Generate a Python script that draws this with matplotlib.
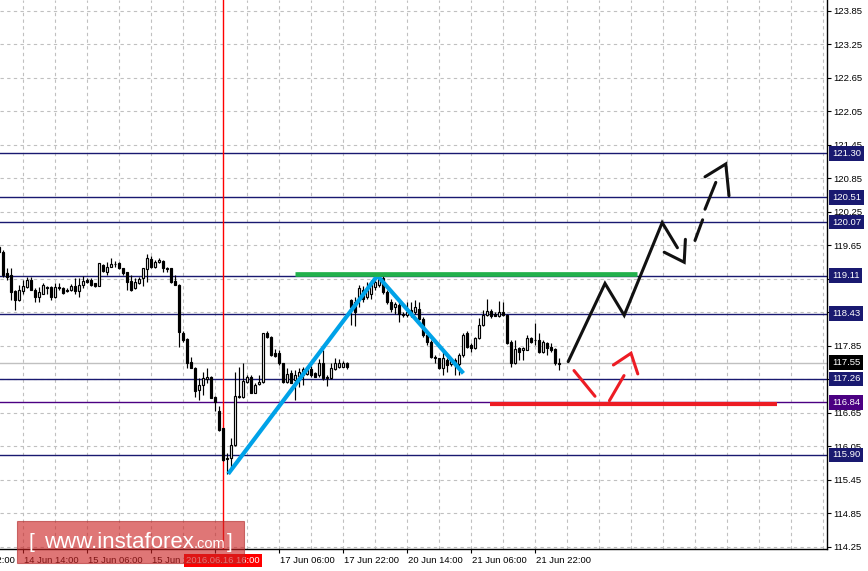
import matplotlib
matplotlib.use("Agg")
import matplotlib.pyplot as plt
import matplotlib.transforms as mtransforms
from matplotlib.patches import Rectangle

# ---------------- data ----------------
# hourly bars: index 0 = 14 Jun 14:00 (trading hours only)
bars = list(range(-6, 135))
opens = [119.63, 119.54, 119.15, 119.12, 118.84, 118.67,
         118.84, 118.91, 119.03, 118.85, 118.73, 118.79, 118.91, 118.91, 118.72, 118.91,
         118.89, 118.85, 118.85, 118.92, 118.84, 118.94, 119.03, 119.03, 118.97, 118.93,
         119.30, 119.18, 119.27, 119.31, 119.33, 119.24, 119.17, 119.01, 118.88, 118.97,
         119.06, 119.23, 119.41, 119.27, 119.36, 119.37, 119.25, 119.24, 119.01, 118.94,
         118.08, 117.97, 117.56, 117.46, 117.06, 117.16, 117.26, 117.30, 116.94, 116.69,
         116.38, 115.85, 115.84, 116.08, 116.93, 116.93, 117.21, 117.30, 117.01, 117.17,
         117.21, 118.09, 118.02, 117.73, 117.72, 117.54, 117.21, 117.37, 117.24, 117.31,
         117.33, 117.35, 117.43, 117.37, 117.33, 117.54, 117.30, 117.27, 117.43, 117.48,
         117.48, 117.55, 118.67, 118.64, 118.70, 118.85, 118.73, 118.79, 118.91, 118.94,
         119.07, 118.82, 118.64, 118.54, 118.58, 118.43, 118.40, 118.49, 118.46, 118.52,
         118.34, 118.05, 117.93, 117.66, 117.63, 117.45, 117.60, 117.52, 117.60, 117.52,
         117.69, 118.08, 117.87, 117.81, 117.99, 118.23, 118.41, 118.48, 118.42, 118.38,
         118.45, 118.41, 117.93, 117.54, 117.81, 117.78, 117.78, 117.99, 117.95, 117.95,
         117.75, 117.91, 117.84, 117.79, 117.52]
highs = [119.66, 119.57, 119.24, 119.24, 118.85, 118.94,
         119.04, 119.08, 119.08, 118.88, 118.91, 118.98, 118.92, 118.92, 118.97, 118.97,
         118.91, 118.88, 118.96, 119.06, 119.06, 119.10, 119.06, 119.06, 118.98, 119.34,
         119.32, 119.36, 119.42, 119.37, 119.35, 119.25, 119.18, 119.12, 119.07, 119.09,
         119.25, 119.49, 119.47, 119.39, 119.42, 119.39, 119.27, 119.25, 119.12, 118.96,
         118.12, 117.99, 117.66, 117.48, 117.27, 117.38, 117.45, 117.32, 116.96, 116.78,
         116.39, 115.93, 116.20, 117.39, 117.48, 117.54, 117.33, 117.33, 117.18, 117.33,
         118.09, 118.11, 118.03, 117.79, 117.78, 117.55, 117.45, 117.42, 117.42, 117.45,
         117.48, 117.43, 117.49, 117.39, 117.61, 117.78, 117.33, 117.54, 117.63, 117.61,
         117.59, 117.57, 118.70, 118.73, 118.94, 118.93, 119.00, 119.03, 119.06, 119.11,
         119.10, 118.85, 118.70, 118.64, 118.64, 118.46, 118.64, 118.64, 118.67, 118.64,
         118.37, 118.08, 117.96, 117.69, 117.64, 117.75, 117.63, 117.63, 117.63, 117.72,
         118.08, 118.11, 117.90, 118.02, 118.35, 118.50, 118.69, 118.52, 118.45, 118.66,
         118.64, 118.42, 117.96, 117.96, 117.84, 117.84, 118.05, 118.02, 118.26, 118.08,
         117.96, 117.93, 117.90, 117.82, 117.63]
lows = [119.52, 119.09, 119.04, 118.67, 118.49, 118.66,
        118.79, 118.88, 118.85, 118.64, 118.64, 118.78, 118.79, 118.68, 118.715, 118.86,
        118.79, 118.82, 118.84, 118.79, 118.73, 118.88, 118.97, 118.93, 118.91, 118.92,
        119.18, 119.12, 119.26, 119.26, 119.23, 119.13, 118.85, 118.84, 118.87, 118.96,
        118.93, 119.00, 119.24, 119.25, 119.33, 119.17, 119.18, 118.97, 118.94, 117.84,
        117.93, 117.46, 117.45, 116.94, 116.88, 116.98, 117.18, 116.91, 116.69, 116.33,
        115.79, 115.55, 115.66, 116.06, 116.91, 116.91, 117.18, 117.00, 117.00, 117.15,
        117.19, 118.00, 117.67, 117.65, 117.51, 117.19, 117.18, 117.18, 116.89, 117.12,
        117.15, 117.33, 117.30, 117.29, 117.30, 117.24, 117.13, 117.26, 117.42, 117.45,
        117.47, 117.43, 118.23, 118.20, 118.55, 118.64, 118.70, 118.70, 118.85, 118.91,
        118.79, 118.61, 118.46, 118.43, 118.28, 118.37, 118.37, 118.37, 118.43, 118.31,
        118.02, 117.87, 117.63, 117.54, 117.44, 117.33, 117.39, 117.50, 117.33, 117.33,
        117.66, 117.81, 117.75, 117.80, 117.97, 118.21, 118.39, 118.35, 118.38, 118.37,
        118.39, 117.89, 117.48, 117.53, 117.60, 117.60, 117.77, 117.91, 117.87, 117.73,
        117.72, 117.69, 117.75, 117.51, 117.42]
closes = [119.54, 119.12, 119.09, 118.82, 118.67, 118.85,
          118.92, 119.04, 118.86, 118.73, 118.82, 118.94, 118.88, 118.73, 118.91, 118.89,
          118.80, 118.83, 118.92, 118.84, 118.94, 119.01, 119.00, 118.94, 118.93, 119.33,
          119.20, 119.26, 119.32, 119.32, 119.24, 119.15, 119.00, 118.85, 119.00, 119.05,
          119.24, 119.42, 119.27, 119.36, 119.39, 119.24, 119.23, 118.99, 118.95, 118.10,
          117.96, 117.54, 117.46, 117.04, 117.15, 117.27, 117.30, 116.92, 116.85, 116.35,
          115.81, 115.83, 116.08, 116.95, 116.95, 117.22, 117.30, 117.01, 117.15, 117.21,
          118.08, 118.02, 117.69, 117.67, 117.54, 117.21, 117.35, 117.19, 117.33, 117.39,
          117.43, 117.42, 117.33, 117.30, 117.54, 117.27, 117.27, 117.45, 117.54, 117.55,
          117.55, 117.47, 118.55, 118.46, 118.88, 118.70, 118.85, 118.97, 119.00, 119.06,
          118.82, 118.64, 118.52, 118.61, 118.43, 118.40, 118.46, 118.40, 118.54, 118.34,
          118.05, 117.93, 117.66, 117.63, 117.45, 117.63, 117.51, 117.60, 117.51, 117.69,
          118.05, 117.84, 117.81, 117.99, 118.23, 118.41, 118.47, 118.38, 118.39, 118.45,
          118.41, 117.90, 117.54, 117.79, 117.75, 117.81, 117.99, 117.93, 117.96, 117.75,
          117.93, 117.81, 117.78, 117.54, 117.55]

price_ticks = [114.25, 114.85, 115.45, 116.05, 116.65, 117.25, 117.85, 118.45,
               119.05, 119.65, 120.25, 120.85, 121.45, 122.05, 122.65, 123.25, 123.85]
# tick labels fully hidden behind level boxes in the reference
hidden_price_labels = [117.25, 118.45, 119.05]
time_tick_bars = [-16, 0, 16, 32, 48, 64, 80, 96, 112, 128]
time_tick_labels = ["13 Jun 22:00", "14 Jun 14:00", "15 Jun 06:00", "15 Jun 22:00",
                    "16 Jun 14:00", "17 Jun 06:00", "17 Jun 22:00", "20 Jun 14:00",
                    "21 Jun 06:00", "21 Jun 22:00"]
hidden_time_labels = ["16 Jun 14:00"]

level_prices = [121.30, 120.51, 120.07, 119.11, 118.43, 117.26, 116.84, 115.90]
level_colors = ["#191970"] * 6 + ["#4b0082", "#191970"]
bid_price = 117.55
cursor_bar = 50
cursor_label = "2016.06.16 16:00"

blue_x = [51.3, 88.6, 110.1]
blue_y = [115.56, 119.11, 117.36]
green_level = 119.14
green_span = [68.0, 153.4]
red_level = 116.82
red_span = [116.75, 188.5]

black_path_x = [136.3, 145.5, 150.3, 159.8, 163.6]
black_path_y = [117.57, 118.97, 118.40, 120.06, 119.61]
black_head1_x = [160.3, 165.3, 165.6]
black_head1_y = [119.53, 119.35, 119.76]
black_dash_x = [[168.0, 169.9], [170.5, 173.2]]
black_dash_y = [[119.74, 120.11], [120.30, 120.78]]
black_head2_x = [170.5, 175.7, 176.5]
black_head2_y = [120.88, 121.11, 120.54]

red_dash_x = [[137.75, 143.0], [146.6, 150.25]]
red_dash_y = [[117.41, 116.95], [116.87, 117.32]]
red_head_x = [147.6, 152.0, 153.7]
red_head_y = [117.51, 117.72, 117.35]

# ---------------- figure ----------------
W, H, DPI = 868, 571, 100
fig = plt.figure(figsize=(W / DPI, H / DPI), dpi=DPI)
fig.patch.set_facecolor("white")
ax = fig.add_axes([0, 22 / H, 827 / W, 549 / H])
ax.set_facecolor("white")
ax.set_xlim(-5.75, 201.0)
ax.set_ylim(114.214, 124.047)

FONT = "Liberation Sans"
FS = 6.8
GRID = "#c0c0c0"

# grid
for v in price_ticks:
    ax.axhline(v, color=GRID, lw=0.8, ls=(0, (3, 3)), zorder=1)
for g in range(-8, 208, 8):
    ax.axvline(g, color=GRID, lw=0.8, ls=(0, (3, 3)), zorder=1)

# level lines
ax.axhline(bid_price, color="#c0c0c0", lw=1.0, zorder=2)
for p, c in zip(level_prices, level_colors):
    ax.axhline(p, color=c, lw=1.0, zorder=2)

# cursor line
ax.axvline(cursor_bar, color="red", lw=1.0, zorder=3)

# candles
for i, o, h, l, c in zip(bars, opens, highs, lows, closes):
    ax.plot([i, i], [l, h], color="black", lw=0.85, zorder=4, solid_capstyle="butt")
    bottom = min(o, c)
    height = max(abs(c - o), 0.006)
    fc = "white" if c >= o else "black"
    ax.add_patch(Rectangle((i - 0.3, bottom), 0.6, height, facecolor=fc,
                           edgecolor="black", lw=0.85, zorder=5))

# drawings
ax.plot(blue_x, blue_y, color="#00a2e8", lw=3.0, zorder=7, solid_capstyle="butt")
ax.plot(green_span, [green_level, green_level], color="#22b14c", lw=3.4, zorder=7,
        solid_capstyle="butt")
ax.plot(red_span, [red_level, red_level], color="#ed1c24", lw=3.0, zorder=7,
        solid_capstyle="butt")
kw_b = dict(color="#111111", lw=2.2, zorder=8, solid_capstyle="round", solid_joinstyle="miter")
ax.plot(black_path_x, black_path_y, **kw_b)
ax.plot(black_head1_x, black_head1_y, **kw_b)
for xs, ys in zip(black_dash_x, black_dash_y):
    ax.plot(xs, ys, **kw_b)
ax.plot(black_head2_x, black_head2_y, **kw_b)
kw_r = dict(color="#ed1c24", lw=2.2, zorder=8, solid_capstyle="round", solid_joinstyle="miter")
for xs, ys in zip(red_dash_x, red_dash_y):
    ax.plot(xs, ys, **kw_r)
ax.plot(red_head_x, red_head_y, **kw_r)

# spines / ticks
for s in ["left", "top"]:
    ax.spines[s].set_visible(False)
for s in ["right", "bottom"]:
    ax.spines[s].set_color("black")
    ax.spines[s].set_linewidth(1.0)

ax.yaxis.tick_right()
ax.set_yticks(price_ticks)
ax.set_yticklabels(["" if v in hidden_price_labels else f"{v:.2f}" for v in price_ticks],
                   fontfamily=FONT, fontsize=FS)
ax.tick_params(axis="y", direction="out", length=3, width=0.8, pad=1.5, colors="black")

vis_ticks = [t for t in time_tick_bars if t >= -5.75]
ax.set_xticks(vis_ticks)
ax.set_xticklabels([""] * len(vis_ticks))
ax.tick_params(axis="x", direction="out", length=3, width=0.8)

xblend = mtransforms.blended_transform_factory(ax.transData, ax.transAxes)
xlab_tr = mtransforms.offset_copy(xblend, fig=fig, x=1, y=-7, units="dots")
for t, lab in zip(time_tick_bars, time_tick_labels):
    if lab in hidden_time_labels:
        continue
    ax.text(t, 0, lab, transform=xlab_tr, ha="left", va="top", fontsize=FS,
            fontfamily=FONT, color="black", clip_on=False, zorder=9)

ax.text(cursor_bar, 0, cursor_label, transform=mtransforms.offset_copy(xblend, fig=fig, x=0, y=-7, units="dots"),
        ha="center", va="top", fontsize=FS, fontfamily=FONT, color="white", clip_on=False, zorder=11,
        bbox=dict(boxstyle="square,pad=0.22", facecolor="red", edgecolor="none"))

yblend = mtransforms.blended_transform_factory(ax.transAxes, ax.transData)
ylab_tr = mtransforms.offset_copy(yblend, fig=fig, x=5, y=0, units="dots")
for p, c in list(zip(level_prices, level_colors)) + [(bid_price, "black")]:
    ax.text(1, p, f"{p:.2f}", transform=ylab_tr, ha="left", va="center", fontsize=FS,
            fontfamily=FONT, color="white", clip_on=False, zorder=12,
            bbox=dict(boxstyle="square,pad=0.3", facecolor=c, edgecolor="none"))

# watermark
fig.add_artist(Rectangle((17 / W, 1 - 563 / H), 227 / W, 42 / H, transform=fig.transFigure,
                         facecolor="#cc2222", alpha=0.62, edgecolor="#b02a2a", lw=0.8, zorder=20))
base = 1 - 548 / H
fig.text(29 / W, base, "[", fontsize=15, color="white", fontfamily=FONT, va="baseline", zorder=21)
fig.text(44 / W, base, "www.instaforex", fontsize=16, color="white", fontfamily=FONT,
         va="baseline", zorder=21)
fig.text(194 / W, base, ".com", fontsize=10.5, color="white", fontfamily=FONT, va="baseline", zorder=21)
fig.text(227 / W, base, "]", fontsize=15, color="white", fontfamily=FONT, va="baseline", zorder=21)

fig.savefig("out.png", dpi=DPI, facecolor="white")
